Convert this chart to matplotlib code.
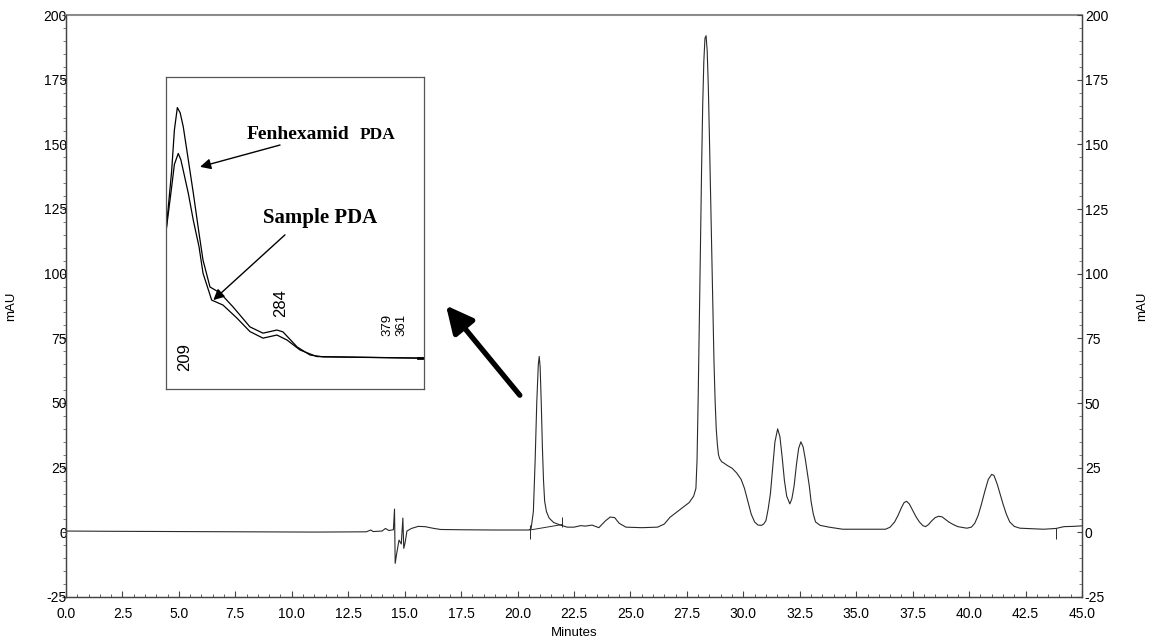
import matplotlib
matplotlib.use("Agg")
import matplotlib.pyplot as plt
from matplotlib.ticker import MultipleLocator, FormatStrFormatter

# ---------------- data ----------------
# chromatogram (Minutes, mAU)
time_min = [0.0, 2.0, 5.0, 8.0, 11.0, 13.3, 13.5, 13.6, 14.0, 14.15, 14.3, 14.5,
            14.55, 14.58, 14.65, 14.75, 14.85, 14.92, 14.96, 15.02, 15.1, 15.3,
            15.6, 15.9, 16.3, 16.6, 17.5, 19.0, 20.5, 20.6, 20.7, 20.78, 20.85,
            20.92, 20.96, 21.0, 21.05, 21.1, 21.15, 21.2, 21.28, 21.4, 21.6,
            21.9, 22.2, 22.5, 22.8, 23.0, 23.3, 23.6, 23.9, 24.1, 24.3, 24.5,
            24.8, 25.5, 26.2, 26.5, 26.75, 27.0, 27.3, 27.6, 27.8, 27.9, 27.95,
            28.0, 28.05, 28.1, 28.15, 28.2, 28.25, 28.3, 28.35, 28.4, 28.45,
            28.5, 28.55, 28.6, 28.65, 28.7, 28.75, 28.8, 28.85, 28.9, 28.95,
            29.05, 29.1, 29.3, 29.5, 29.7, 29.9, 30.05, 30.2, 30.35, 30.5, 30.65,
            30.8, 30.9, 31.0, 31.1, 31.2, 31.3, 31.4, 31.52, 31.62, 31.72, 31.82,
            31.92, 32.06, 32.15, 32.25, 32.35, 32.45, 32.55, 32.65, 32.75, 32.85,
            32.92, 33.0, 33.1, 33.2, 33.4, 33.8, 34.4, 36.3, 36.5, 36.7, 36.85,
            37.0, 37.12, 37.23, 37.35, 37.5, 37.65, 37.8, 37.95, 38.07, 38.2,
            38.35, 38.5, 38.65, 38.8, 38.95, 39.1, 39.3, 39.5, 39.9, 40.1, 40.25,
            40.4, 40.55, 40.7, 40.85, 41.0, 41.1, 41.25, 41.4, 41.5, 41.65, 41.8,
            42.0, 42.25, 42.5, 43.3, 43.85, 44.2, 44.6, 45.0]
signal_mau = [0.5, 0.4, 0.3, 0.2, 0.1, 0.2, 0.9, 0.3, 0.5, 1.5, 0.7, 1.0,
              9.0, -12.0, -8.0, -3.0, -4.5, 5.5, -6.2, -4.0, 0.5, 1.5,
              2.3, 2.2, 1.5, 1.1, 1.0, 0.9, 0.9, 1.5, 8.0, 28.0, 50.0,
              65.0, 68.0, 64.0, 50.0, 33.0, 20.0, 12.0, 8.0, 5.5, 3.8,
              2.8, 2.0, 2.0, 2.6, 2.4, 2.8, 1.8, 4.5, 5.9, 5.7, 3.5,
              2.0, 1.8, 2.0, 3.2, 5.8, 7.5, 9.5, 11.5, 14.0, 17.0, 28.0,
              52.0, 80.0, 110.0, 140.0, 165.0, 182.0, 191.0, 192.0, 186.0, 172.0,
              152.0, 130.0, 106.0, 84.0, 66.0, 51.0, 40.0, 34.0, 30.0, 28.5,
              27.2, 27.0, 25.8, 24.8, 23.0, 20.5, 17.0, 12.0, 7.0, 4.0, 2.8,
              2.7, 3.2, 4.5, 9.0, 15.0, 25.0, 35.0, 40.0, 37.0, 29.0, 20.0,
              14.0, 11.0, 13.0, 18.0, 26.0, 32.5, 35.0, 33.0, 28.0, 22.0,
              18.0, 12.0, 7.0, 4.0, 2.7, 2.0, 1.2, 1.2, 2.0, 4.0, 6.5,
              9.5, 11.5, 12.0, 11.0, 8.5, 6.0, 4.0, 2.6, 2.2, 3.0,
              4.5, 5.7, 6.2, 6.0, 5.0, 4.0, 3.0, 2.2, 1.6, 2.0, 3.5,
              6.5, 11.0, 16.0, 20.5, 22.4, 22.0, 18.5, 14.0, 11.0, 7.0, 4.0,
              2.3, 1.6, 1.5, 1.2, 1.5, 2.2, 2.3, 2.5]

# integration markers (Minutes, mAU)
int_base_t = [20.55, 21.97]
int_base_v = [0.9, 3.0]
int_ticks_t = [20.55, 21.97, 43.87]
int_ticks_lo = [-2.5, 2.0, -2.5]
int_ticks_hi = [2.7, 5.9, 1.5]

# inset UV spectra (nm, relative absorbance)
wl_fen = [200, 204.4, 206.5, 208.8, 211.0, 213.4, 217.3, 221.2, 225.6, 228.7,
          234.1, 241.9, 252.0, 265.1, 275.2, 286.0, 290.7, 301.6, 311.6, 321.7,
          396.9, 400]
abs_fen = [0.504, 0.70, 0.83, 0.902, 0.885, 0.84, 0.734, 0.627, 0.499, 0.413,
           0.327, 0.308, 0.263, 0.199, 0.179, 0.189, 0.183, 0.135, 0.109, 0.103,
           0.099, 0.099]
wl_smp = [200, 204.4, 206.5, 209.5, 211.5, 213.4, 217.3, 221.2, 225.6, 228.7,
          235.4, 244.2, 254.8, 265.1, 275.2, 286.0, 293.8, 303.9, 316.8, 396.9,
          400]
abs_smp = [0.504, 0.648, 0.72, 0.755, 0.735, 0.70, 0.627, 0.54, 0.456, 0.371,
           0.285, 0.269, 0.228, 0.184, 0.163, 0.173, 0.157, 0.125, 0.104, 0.099,
           0.099]

x_ticks = [0.0, 2.5, 5.0, 7.5, 10.0, 12.5, 15.0, 17.5, 20.0, 22.5, 25.0, 27.5,
           30.0, 32.5, 35.0, 37.5, 40.0, 42.5, 45.0]
y_ticks = [-25, 0, 25, 50, 75, 100, 125, 150, 175, 200]

# ---------------- figure ----------------
plt.rcParams['font.family'] = ['Liberation Sans', 'DejaVu Sans']
plt.rcParams['axes.unicode_minus'] = False
fig = plt.figure(figsize=(11.5, 6.42), dpi=100)
ax = fig.add_axes([66/1150, 45/642, 1016/1150, 582/642])

ax.plot(time_min, signal_mau, color='#2a2a2a', lw=0.8)
ax.plot(int_base_t, int_base_v, color='#2a2a2a', lw=0.7)
ax.vlines(int_ticks_t, int_ticks_lo, int_ticks_hi, color='#2a2a2a', lw=0.7)

ax.set_xlim(0, 45)
ax.set_ylim(-25, 200)
ax.set_xticks(x_ticks)
ax.xaxis.set_major_formatter(FormatStrFormatter('%.1f'))
ax.xaxis.set_minor_locator(MultipleLocator(0.5))
ax.set_yticks(y_ticks)
ax.yaxis.set_minor_locator(MultipleLocator(5))

for s in ['left', 'bottom', 'right']:
    ax.spines[s].set_color('#444444')
    ax.spines[s].set_linewidth(0.9)
ax.spines['top'].set_color('#8c8c8c')
ax.spines['top'].set_linewidth(1.5)

ax.tick_params(axis='x', which='major', direction='in', length=4.5, width=0.8,
               labelsize=10, pad=7, color='#444444', top=False)
ax.tick_params(axis='x', which='minor', direction='in', length=2.5, width=0.6,
               color='#444444', top=False)
ax.tick_params(axis='y', which='major', direction='out', length=3, width=0.8,
               labelsize=10, pad=-3.6, color='#444444', right=False)
ax.tick_params(axis='y', which='minor', direction='out', length=2, width=0.6,
               color='#666666', right=False)

ax2 = ax.twinx()
ax2.set_ylim(-25, 200)
ax2.set_yticks(y_ticks)
ax2.yaxis.set_minor_locator(MultipleLocator(5))
ax2.tick_params(axis='y', which='major', direction='in', length=3.5, width=0.8,
                labelsize=10, pad=2, color='#444444')
ax2.tick_params(axis='y', which='minor', direction='in', length=2, width=0.6,
                color='#666666')
for s in ['left', 'bottom', 'right']:
    ax2.spines[s].set_color('#444444')
    ax2.spines[s].set_linewidth(0.9)
ax2.spines['top'].set_visible(False)

ax.set_xlabel('Minutes', fontsize=9.5)
ax.xaxis.set_label_coords(0.5, -0.052)
ax.set_ylabel('mAU', fontsize=9.5)
ax.yaxis.set_label_coords(-0.048, 0.5)
ax2.set_ylabel('mAU', fontsize=9.5, rotation=90)
ax2.yaxis.set_label_coords(1.053, 0.5)

# big arrow pointing to inset
ax.annotate('', xy=(16.83, 87.7), xytext=(20.1, 53.0), xycoords='data',
            arrowprops=dict(arrowstyle='-|>,head_length=0.65,head_width=0.32',
                            mutation_scale=25, lw=3.8, color='black',
                            shrinkA=0, shrinkB=0))

# ---------------- inset ----------------
axi = fig.add_axes([166/1150, 253/642, 258/1150, 312/642])
axi.plot(wl_fen, abs_fen, color='black', lw=0.9)
axi.plot(wl_smp, abs_smp, color='black', lw=0.9)
axi.plot([395, 400], [0.099, 0.099], color='black', lw=2.0)
axi.set_xlim(200, 400)
axi.set_ylim(0, 1)
axi.set_xticks([])
axi.set_yticks([])
for s in axi.spines.values():
    s.set_color('#555555')
    s.set_linewidth(0.9)

serif = ['Liberation Serif', 'DejaVu Serif']
axi.text(262.6, 0.801, 'Fenhexamid', family=serif, fontweight='bold',
         fontsize=14, ha='left', va='baseline')
axi.text(350.4, 0.801, 'PDA', family=serif, fontweight='bold',
         fontsize=12.5, ha='left', va='baseline')
axi.text(275.4, 0.533, 'Sample PDA', family=serif, fontweight='bold',
         fontsize=15, ha='left', va='baseline')

axi.annotate('', xy=(226.4, 0.712), xytext=(288.4, 0.782),
             arrowprops=dict(arrowstyle='-|>', mutation_scale=16, lw=1.0,
                             color='black', shrinkA=0, shrinkB=0))
axi.annotate('', xy=(236.7, 0.285), xytext=(292.2, 0.494),
             arrowprops=dict(arrowstyle='-|>', mutation_scale=16, lw=1.0,
                             color='black', shrinkA=0, shrinkB=0))

axi.text(214.7, 0.103, '209', rotation=90, fontsize=12, ha='center', va='center')
axi.text(289.1, 0.276, '284', rotation=90, fontsize=12, ha='center', va='center')
axi.text(372.0, 0.205, '379', rotation=90, fontsize=9.5, ha='center', va='center')
axi.text(382.5, 0.205, '361', rotation=90, fontsize=9.5, ha='center', va='center')

fig.savefig('out.png', dpi=100)
